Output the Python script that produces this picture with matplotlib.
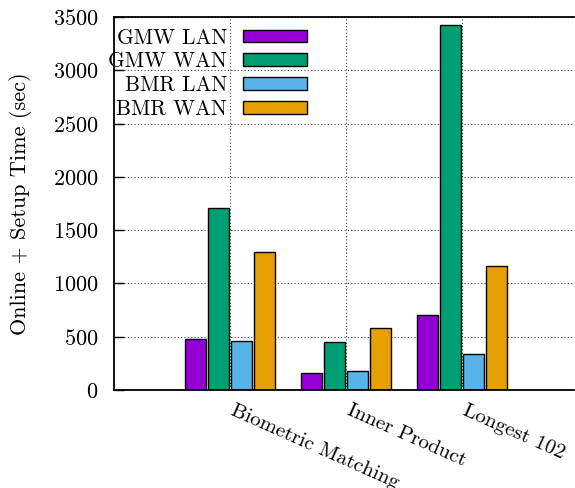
import numpy as np
import matplotlib.pyplot as plt

plt.rcParams['font.family'] = 'cmr10'
plt.rcParams['mathtext.fontset'] = 'cm'
plt.rcParams['axes.unicode_minus'] = False
plt.rcParams['axes.formatter.use_mathtext'] = True

categories = ['Biometric Matching', 'Inner Product', 'Longest 102']
series = ['GMW LAN', 'GMW WAN', 'BMR LAN', 'BMR WAN']
gmw_lan = [478, 160, 702]
gmw_wan = [1708, 452, 3425]
bmr_lan = [462, 176, 336]
bmr_wan = [1296, 578, 1163]
colors = ['#9400d3', '#009e73', '#56b4e9', '#e69f00']

values = [gmw_lan, gmw_wan, bmr_lan, bmr_wan]
x = np.arange(len(categories))
offsets = [-0.3, -0.1, 0.1, 0.3]

fig = plt.figure(figsize=(5.75, 4.88), dpi=100)
ax = fig.add_axes([114/575, 98/488, 460/575, 373/488])

for vals, off, col, name in zip(values, offsets, colors, series):
    ax.bar(x + off, vals, width=0.18, color=col, edgecolor='black', linewidth=1, label=name, zorder=2)

ax.set_xlim(-1, 2.966)
ax.set_ylim(0, 3500)
ax.set_yticks(range(0, 3501, 500))
# grid on the category centres, labels nudged a little to the right
ax.set_xticks(x, labels=[''] * len(x))
ax.set_xticks(x + 0.05, labels=categories, minor=True)
for lbl in ax.get_xticklabels(minor=True):
    lbl.set_rotation(-24)
    lbl.set_ha('left')
    lbl.set_va('top')
    lbl.set_rotation_mode('anchor')
ax.tick_params(axis='x', which='both', length=0, pad=8, labelsize=15)
ax.tick_params(axis='y', direction='in', length=7, width=1, pad=11, labelsize=16)
ax.set_ylabel('Online + Setup Time (sec)', fontsize=16, labelpad=15)

ax.grid(True, which='major', linestyle=(0, (1, 2)), color='#444444', linewidth=0.8)
ax.set_axisbelow(True)
for s in ['left', 'bottom', 'top']:
    ax.spines[s].set_linewidth(1.3)
ax.spines['right'].set_visible(False)

ax.legend(loc='upper right', bbox_to_anchor=(307/575, 1 - 28/488), bbox_transform=fig.transFigure,
          frameon=False, markerfirst=False, fontsize=15.3, handlelength=3.0, handleheight=0.56,
          labelspacing=0.2, handletextpad=0.75, borderpad=0, borderaxespad=0)

fig.savefig('out.png', dpi=100)
